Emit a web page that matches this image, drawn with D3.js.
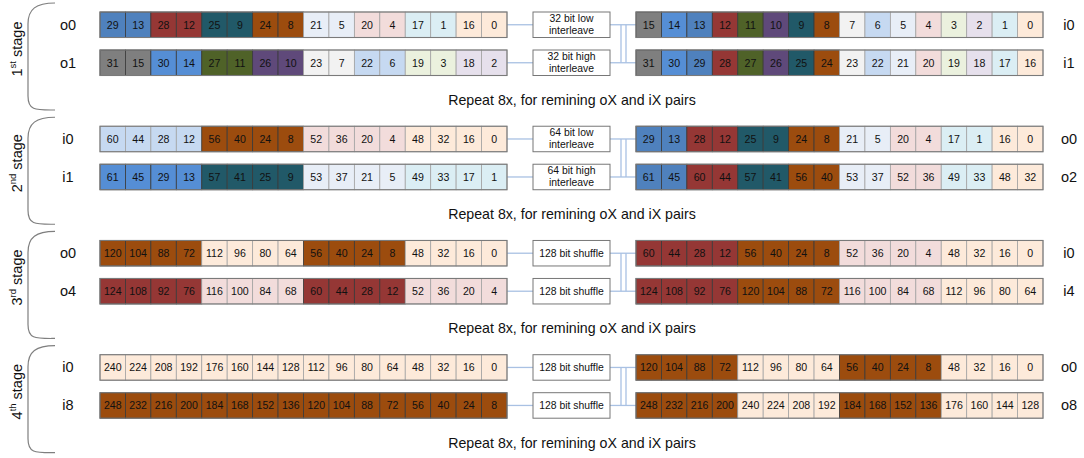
<!DOCTYPE html>
<html><head><meta charset="utf-8">
<script src="https://cdn.jsdelivr.net/npm/d3@7"></script>
<style>body{margin:0;background:#fff;}svg{display:block;font-family:"Liberation Sans",Arial,sans-serif;}</style>
</head><body>
<script>
// ---- data ----
const stageNames = ["1", "2", "3", "4"];
const stageSups = ["st", "nd", "rd", "th"];
const leftLabels = [["o0","o1"],["i0","i1"],["o0","o4"],["i0","i8"]];
const rightLabels = [["i0","i1"],["o0","o2"],["i0","i4"],["o0","o8"]];
const opLabels = [
  [["32 bit low","interleave"],["32 bit high","interleave"]],
  [["64 bit low","interleave"],["64 bit high","interleave"]],
  [["128 bit shuffle"],["128 bit shuffle"]],
  [["128 bit shuffle"],["128 bit shuffle"]]
];
const repeatText = "Repeat 8x, for remining oX and iX pairs";

const leftValues = [
  [[29,13,28,12,25,9,24,8,21,5,20,4,17,1,16,0],
   [31,15,30,14,27,11,26,10,23,7,22,6,19,3,18,2]],
  [[60,44,28,12,56,40,24,8,52,36,20,4,48,32,16,0],
   [61,45,29,13,57,41,25,9,53,37,21,5,49,33,17,1]],
  [[120,104,88,72,112,96,80,64,56,40,24,8,48,32,16,0],
   [124,108,92,76,116,100,84,68,60,44,28,12,52,36,20,4]],
  [[240,224,208,192,176,160,144,128,112,96,80,64,48,32,16,0],
   [248,232,216,200,184,168,152,136,120,104,88,72,56,40,24,8]]
];
const rightValues = [
  [[15,14,13,12,11,10,9,8,7,6,5,4,3,2,1,0],
   [31,30,29,28,27,26,25,24,23,22,21,20,19,18,17,16]],
  [[29,13,28,12,25,9,24,8,21,5,20,4,17,1,16,0],
   [61,45,60,44,57,41,56,40,53,37,52,36,49,33,48,32]],
  [[60,44,28,12,56,40,24,8,52,36,20,4,48,32,16,0],
   [124,108,92,76,120,104,88,72,116,100,84,68,112,96,80,64]],
  [[120,104,88,72,112,96,80,64,56,40,24,8,48,32,16,0],
   [248,232,216,200,240,224,208,192,184,168,152,136,176,160,144,128]]
];
// colour keys per cell
const leftColors = [
  ["SSRRTTOOssrrccoo","GGBBNNPPggbbnnpp"],
  ["bbbbOOOOrrrroooo","BBBBTTTTsssscccc"],
  ["OOOOooooOOOOoooo","RRRRrrrrRRRRrrrr"],
  ["oooooooooooooooo","OOOOOOOOOOOOOOOO"]
];
const rightColors = [
  ["GBSRNPTOgbsrnpco","GBSRNPTOgbsrnpco"],
  ["SSRRTTOOssrrccoo","SSRRTTOOssrrccoo"],
  ["RRRROOOOrrrroooo","RRRROOOOrrrroooo"],
  ["OOOOooooOOOOoooo","OOOOooooOOOOoooo"]
];
const palette = {
  G:"#7f7f7f", B:"#558ed5", S:"#4f81bd", R:"#953735", N:"#4f6228", P:"#5f497a", T:"#215968", O:"#9c4c0e",
  g:"#f2f2f2", b:"#c6d9f1", s:"#e8eef7", r:"#f2dcdb", n:"#ebf1de", p:"#e6e0ec", c:"#dbeef4", o:"#fdeada"
};

// ---- layout ----
const W = 1084, H = 458;
const svg = d3.select("body").append("svg").attr("width", W).attr("height", H);

const cellX = d3.scaleBand().domain(d3.range(16)).range([0, 407]);
const stageY = d3.scaleLinear().domain([0, 3]).range([12, 354.7]);
const rowY = d3.scaleOrdinal().domain([0, 1]).range([0, 38]);
const rowH = 25.5;
const leftX = 100, rightX = 636, boxX = 533, boxW = 77;
const lineColor = "#a9c1e3";

stageNames.forEach((sn, s) => {
  const g = svg.append("g").attr("transform", `translate(0,${stageY(s)})`);

  // brace
  g.append("path")
    .attr("d", `M55,-9 C36,-9 28,-3 28,12 L28,84 C28,99 36,98 55,98`)
    .attr("fill", "none").attr("stroke", "#7f7f7f").attr("stroke-width", 1.2);

  // stage label
  const lab = g.append("text")
    .attr("transform", `translate(22,${37}) rotate(-90)`)
    .attr("text-anchor", "middle").attr("font-size", 14.5).attr("fill", "#111");
  lab.append("tspan").text(sn);
  lab.append("tspan").text(stageSups[s]).attr("font-size", 9.5).attr("dy", -6);
  lab.append("tspan").text(" stage").attr("dy", 6);

  [0, 1].forEach(r => {
    const y = rowY(r), mid = y + rowH / 2;

    // connectors
    g.append("line").attr("x1", leftX + 407).attr("x2", boxX).attr("y1", mid).attr("y2", mid)
      .attr("stroke", lineColor).attr("stroke-width", 1.3);
    g.append("line").attr("x1", boxX + boxW).attr("x2", rightX).attr("y1", mid).attr("y2", mid)
      .attr("stroke", lineColor).attr("stroke-width", 1.3);

    // blocks
    [[leftX, leftValues[s][r], leftColors[s][r]], [rightX, rightValues[s][r], rightColors[s][r]]].forEach(([bx, vals, cols]) => {
      const blk = g.append("g").attr("transform", `translate(${bx},${y})`);
      const cells = blk.selectAll("g.cell").data(vals).join("g").attr("class", "cell")
        .attr("transform", (d, i) => `translate(${cellX(i)},0)`);
      cells.append("rect")
        .attr("width", cellX.bandwidth()).attr("height", rowH)
        .attr("fill", (d, i) => palette[cols[i]])
        .attr("stroke", (d, i) => cols[i] === cols[i].toUpperCase() ? "#3a3a3a" : "#a3a3a3")
        .attr("stroke-width", 0.8);
      cells.append("text")
        .attr("x", cellX.bandwidth() / 2).attr("y", rowH / 2 + 3.8)
        .attr("text-anchor", "middle").attr("font-size", 10.6).attr("fill", "#111")
        .text(d => d);
      blk.append("rect").attr("width", 407).attr("height", rowH)
        .attr("fill", "none").attr("stroke", "#7a7a7a").attr("stroke-width", 1.1);
    });

    // op box
    g.append("rect").attr("x", boxX).attr("y", y).attr("width", boxW).attr("height", rowH)
      .attr("fill", "#fff").attr("stroke", "#777").attr("stroke-width", 1);
    const lines = opLabels[s][r];
    const t = g.append("text").attr("text-anchor", "middle").attr("font-size", 10.4).attr("fill", "#111");
    lines.forEach((ln, k) => {
      t.append("tspan").attr("x", boxX + boxW / 2)
        .attr("y", lines.length === 1 ? mid + 3.7 : y + 10 + k * 11.5)
        .text(ln);
    });

    // row labels
    g.append("text").attr("x", 68).attr("y", mid + 5).attr("text-anchor", "middle")
      .attr("font-size", 14.5).attr("fill", "#111").text(leftLabels[s][r]);
    g.append("text").attr("x", 1069).attr("y", mid + 5).attr("text-anchor", "middle")
      .attr("font-size", 14.5).attr("fill", "#111").text(rightLabels[s][r]);
  });

  // crossing lines
  const m0 = rowY(0) + rowH / 2, m1 = rowY(1) + rowH / 2;
  [621, 626].forEach(xv => {
    g.append("line").attr("x1", xv).attr("x2", xv).attr("y1", m0).attr("y2", m1)
      .attr("stroke", lineColor).attr("stroke-width", 1.3);
  });

  // repeat text
  g.append("text").attr("x", 572).attr("y", 93).attr("text-anchor", "middle")
    .attr("font-size", 14.2).attr("fill", "#111").text(repeatText);
});
</script>
</body></html>
